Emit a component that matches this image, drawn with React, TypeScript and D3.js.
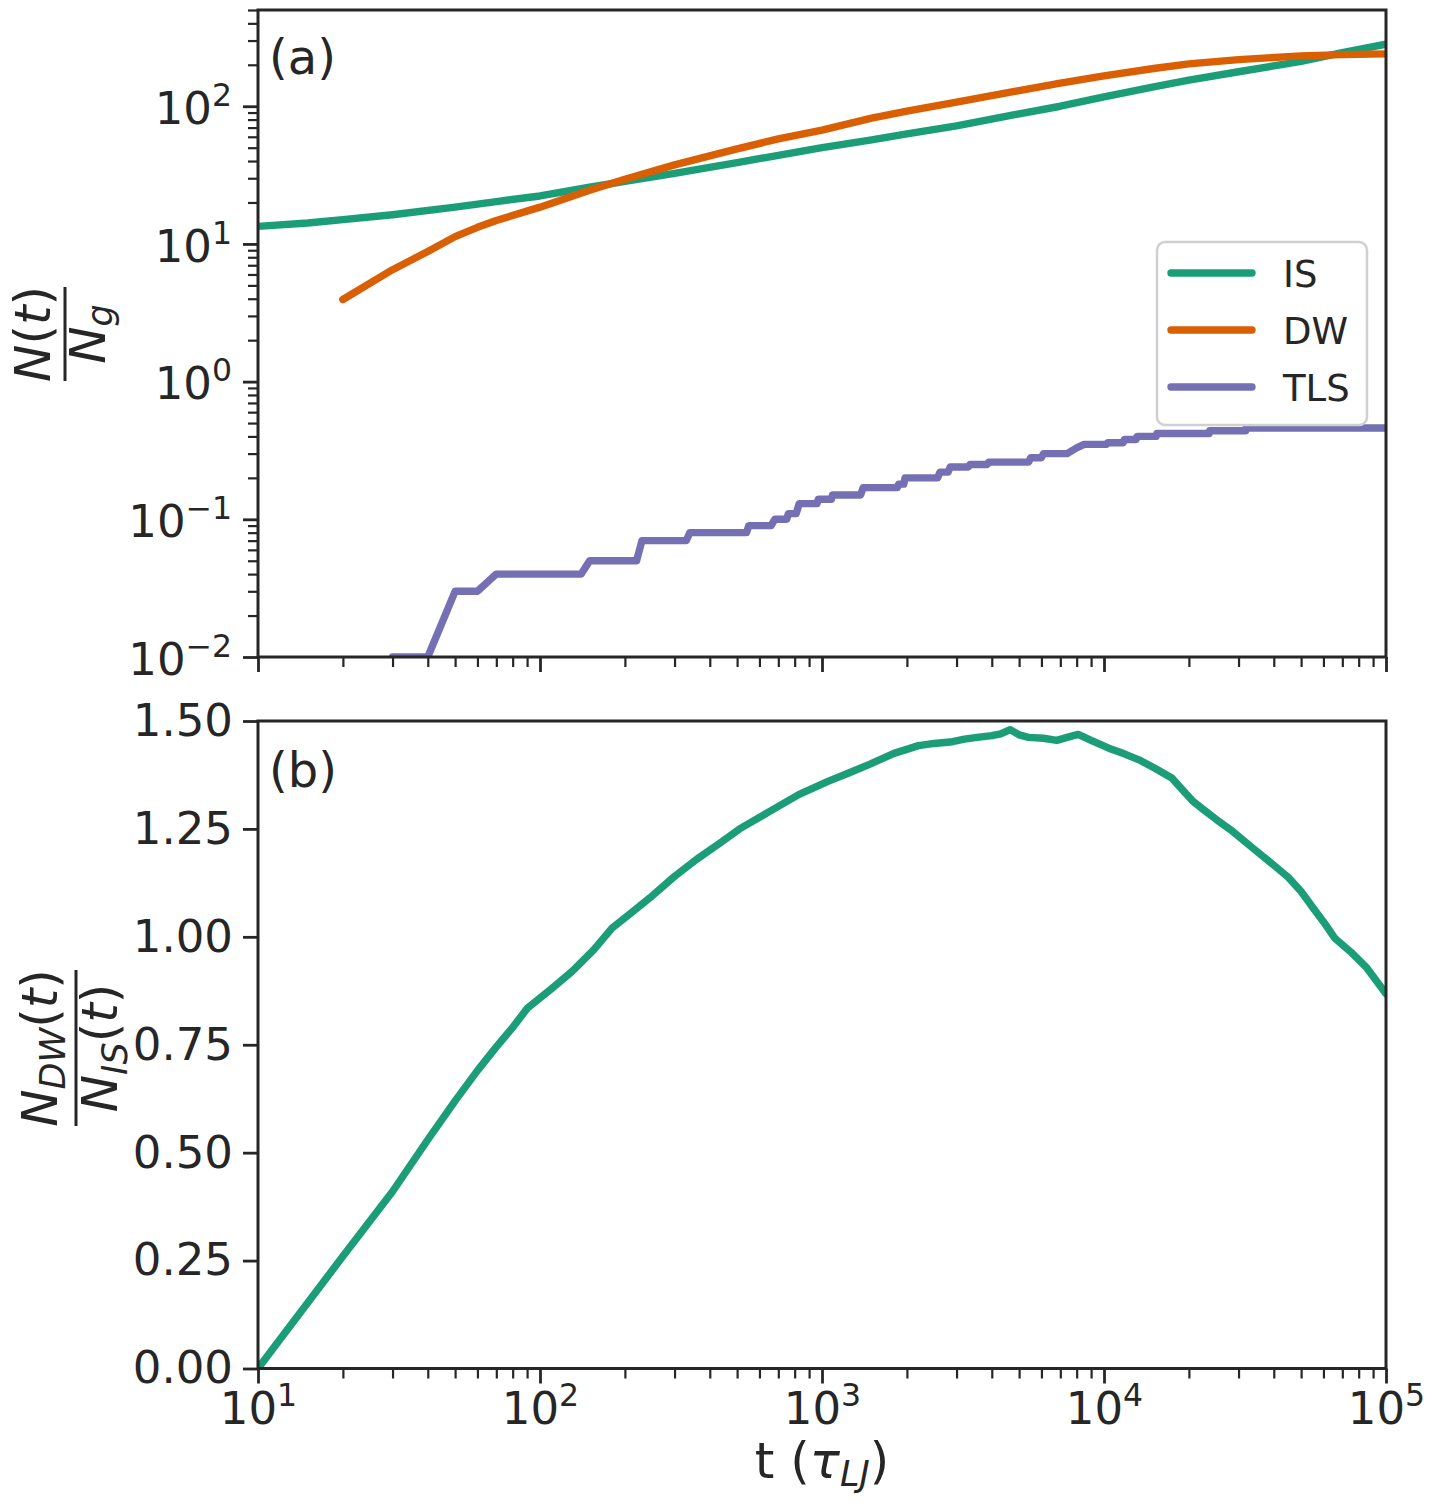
import { useEffect, useRef } from 'react'
import * as d3 from 'd3'

// panel (a): N(t)/N_g
const timeIS = [10, 15, 20, 30, 50, 70, 100, 150, 200, 300, 500, 700, 1000, 1500, 2000, 3000, 5000, 7000, 10000, 15000, 20000, 30000, 50000, 70000, 100000]
const valIS = [13.4, 14.2, 15, 16.3, 18.5, 20.3, 22.3, 25.8, 28.5, 32.5, 39, 44, 50, 57, 63, 72, 88, 100, 117, 138, 155, 178, 212, 245, 282]

const timeDW = [20, 30, 40, 50, 60, 70, 100, 150, 200, 300, 500, 700, 1000, 1500, 2000, 3000, 5000, 7000, 10000, 15000, 20000, 30000, 50000, 70000, 100000]
const valDW = [3.95, 6.5, 8.8, 11.3, 13.2, 14.8, 18.5, 24.5, 29.5, 37.5, 49, 58, 67, 82, 92, 107, 130, 147, 166, 188, 203, 218, 232, 237, 240]

const timeTLS = [30, 40, 50, 60, 70, 140, 150, 220, 230, 330, 340, 540, 550, 660, 680, 750, 760, 810, 830, 960, 970, 1080, 1090, 1370, 1400, 1850, 1870, 1950, 1970, 2570, 2620, 2800, 2850, 3300, 3350, 3850, 3900, 5400, 5500, 6000, 6100, 7400, 8000, 8500, 10200, 10300, 11700, 11800, 13000, 13100, 15300, 15400, 23600, 23700, 31800, 31900, 100000]
const valTLS = [0.01, 0.01, 0.03, 0.03, 0.04, 0.04, 0.05, 0.05, 0.07, 0.07, 0.08, 0.08, 0.09, 0.09, 0.10, 0.10, 0.11, 0.11, 0.13, 0.13, 0.14, 0.14, 0.15, 0.15, 0.17, 0.17, 0.18, 0.18, 0.20, 0.20, 0.22, 0.22, 0.24, 0.24, 0.25, 0.25, 0.26, 0.26, 0.28, 0.28, 0.30, 0.30, 0.33, 0.35, 0.35, 0.36, 0.36, 0.38, 0.38, 0.40, 0.40, 0.42, 0.42, 0.44, 0.44, 0.46, 0.46]

// panel (b): N_DW/N_IS
const timeRatio = [10, 20, 30, 40, 50, 60, 70, 80, 90, 110, 130, 155, 180, 210, 245, 300, 360, 430, 510, 650, 830, 1050, 1250, 1480, 1800, 2200, 2500, 2900, 3200, 3550, 4000, 4300, 4650, 5000, 5400, 6100, 6800, 7400, 8100, 9000, 10400, 11800, 13300, 15200, 17400, 19000, 20600, 22500, 25000, 28500, 33500, 38500, 45000, 50000, 55000, 60000, 66000, 75000, 85000, 100000]
const valRatio = [0, 0.26, 0.41, 0.53, 0.62, 0.69, 0.745, 0.79, 0.834, 0.88, 0.92, 0.97, 1.02, 1.055, 1.09, 1.14, 1.18, 1.215, 1.25, 1.29, 1.33, 1.36, 1.38, 1.40, 1.425, 1.443, 1.448, 1.452, 1.458, 1.462, 1.466, 1.47, 1.48, 1.468, 1.462, 1.46, 1.455, 1.462, 1.469, 1.455, 1.437, 1.424, 1.41, 1.39, 1.368, 1.34, 1.315, 1.295, 1.272, 1.245, 1.207, 1.175, 1.138, 1.105, 1.068, 1.035, 0.996, 0.965, 0.93, 0.868]

const seriesNames = ['IS', 'DW', 'TLS']
const seriesColors = ['#1b9e77', '#d95f02', '#7570b3']
const ratioTicks = [0, 0.25, 0.5, 0.75, 1.0, 1.25, 1.5]

const W = 1436
const H = 1504
const FONT = '"DejaVu Sans", sans-serif'
const INK = '#262626'
const TICK_FS = 45
const LABEL_FS = 50
const LW = 7.4

export default function App() {
  const svgRef = useRef<SVGSVGElement>(null)

  useEffect(() => {
    if (!svgRef.current) return
    const svg = d3.select(svgRef.current)
    svg.selectAll('*').remove()

    const left = 258, right = 1386
    const topA = 10, botA = 657
    const topB = 721, botB = 1368.5

    const x = d3.scaleLog().domain([10, 1e5]).range([left, right])
    const yA = d3.scaleLog().domain([0.01, 500]).range([botA, topA])
    const yB = d3.scaleLinear().domain([0, 1.5]).range([botB, topB])

    const defs = svg.append('defs')
    defs.append('clipPath').attr('id', 'clipA').append('rect')
      .attr('x', left).attr('y', topA).attr('width', right - left).attr('height', botA - topA)
    defs.append('clipPath').attr('id', 'clipB').append('rect')
      .attr('x', left).attr('y', topB).attr('width', right - left).attr('height', botB - topB)

    svg.append('rect').attr('width', W).attr('height', H).attr('fill', 'white')

    // lines panel (a)
    const lineA = d3.line<[number, number]>().x(d => x(d[0])).y(d => yA(d[1]))
    const seriesA: [number, number][][] = [
      timeIS.map((t, i) => [t, valIS[i]]),
      timeDW.map((t, i) => [t, valDW[i]]),
      timeTLS.map((t, i) => [t, valTLS[i]])
    ]
    const gA = svg.append('g').attr('clip-path', 'url(#clipA)')
    seriesA.forEach((pts, i) => {
      gA.append('path')
        .attr('d', lineA(pts))
        .attr('fill', 'none')
        .attr('stroke', seriesColors[i])
        .attr('stroke-width', LW)
        .attr('stroke-linecap', 'round')
        .attr('stroke-linejoin', 'round')
    })

    // line panel (b)
    const lineB = d3.line<[number, number]>().x(d => x(d[0])).y(d => yB(d[1]))
    svg.append('g').attr('clip-path', 'url(#clipB)')
      .append('path')
      .attr('d', lineB(timeRatio.map((t, i) => [t, valRatio[i]])))
      .attr('fill', 'none')
      .attr('stroke', seriesColors[0])
      .attr('stroke-width', LW)
      .attr('stroke-linecap', 'round')
      .attr('stroke-linejoin', 'round')

    // superscript formatter for log ticks
    const powerLabels = (g: d3.Selection<SVGGElement, unknown, null, undefined>) => {
      g.selectAll<SVGTextElement, number>('.tick text').each(function (d) {
        const t = d3.select(this)
        const e = Math.round(Math.log10(d))
        t.text(null)
        t.append('tspan').text('10')
        t.append('tspan')
          .attr('font-size', TICK_FS * 0.7)
          .attr('dy', -18)
          .text(e < 0 ? '\u2212' + -e : String(e))
      })
    }

    const styleAxis = (g: d3.Selection<SVGGElement, unknown, null, undefined>, w = 2.8) => {
      g.attr('font-family', FONT).attr('font-size', TICK_FS).style('color', INK)
      g.select('.domain').remove()
      g.selectAll('.tick line').attr('stroke-width', w)
    }

    const majorX = [10, 100, 1000, 10000, 100000]
    const minorX: number[] = []
    majorX.slice(0, -1).forEach(m => d3.range(2, 10).forEach(k => minorX.push(m * k)))
    const majorYA = [0.01, 0.1, 1, 10, 100]
    const minorYA: number[] = []
    ;[0.01, 0.1, 1, 10, 100].forEach(m => d3.range(2, 10).forEach(k => { if (m * k <= 500) minorYA.push(m * k) }))

    // panel (a) axes
    const axAxMinor = svg.append('g').attr('transform', `translate(0,${botA})`)
      .call(d3.axisBottom(x).tickValues(minorX).tickSize(10).tickFormat(() => ''))
    styleAxis(axAxMinor, 2.2)
    const axAx = svg.append('g').attr('transform', `translate(0,${botA})`)
      .call(d3.axisBottom(x).tickValues(majorX).tickSize(15).tickFormat(() => ''))
    styleAxis(axAx)

    const ayAMinor = svg.append('g').attr('transform', `translate(${left},0)`)
      .call(d3.axisLeft(yA).tickValues(minorYA).tickSize(10).tickFormat(() => ''))
    styleAxis(ayAMinor, 2.2)
    const ayA = svg.append('g').attr('transform', `translate(${left},0)`)
      .call(d3.axisLeft(yA).tickValues(majorYA).tickSize(15).tickPadding(11))
    styleAxis(ayA)
    ayA.selectAll('.tick text').attr('dy', '0.38em')
    powerLabels(ayA)

    // panel (b) axes
    const axBMinor = svg.append('g').attr('transform', `translate(0,${botB})`)
      .call(d3.axisBottom(x).tickValues(minorX).tickSize(10).tickFormat(() => ''))
    styleAxis(axBMinor, 2.2)
    const axB = svg.append('g').attr('transform', `translate(0,${botB})`)
      .call(d3.axisBottom(x).tickValues(majorX).tickSize(15).tickPadding(9))
    styleAxis(axB)
    powerLabels(axB)

    const ayB = svg.append('g').attr('transform', `translate(${left},0)`)
      .call(d3.axisLeft(yB).tickValues(ratioTicks).tickSize(15).tickPadding(10).tickFormat(d3.format('.2f')))
    styleAxis(ayB)

    // spines
    ;[[topA, botA], [topB, botB]].forEach(([t, b]) => {
      svg.append('rect')
        .attr('x', left).attr('y', t).attr('width', right - left).attr('height', b - t)
        .attr('fill', 'none').attr('stroke', INK).attr('stroke-width', 3)
    })

    // panel tags
    svg.append('text').attr('x', 269).attr('y', 74).attr('font-family', FONT)
      .attr('font-size', 48).attr('fill', INK).text('(a)')
    svg.append('text').attr('x', 269).attr('y', 787).attr('font-family', FONT)
      .attr('font-size', 48).attr('fill', INK).text('(b)')

    // legend
    const leg = svg.append('g')
    leg.append('rect')
      .attr('x', 1157).attr('y', 242).attr('width', 210).attr('height', 183).attr('rx', 8)
      .attr('fill', 'white').attr('fill-opacity', 0.8)
      .attr('stroke', '#d0d0d0').attr('stroke-width', 2.5)
    seriesNames.forEach((name, i) => {
      const ly = 273 + i * 57
      leg.append('line')
        .attr('x1', 1171).attr('x2', 1252).attr('y1', ly).attr('y2', ly)
        .attr('stroke', seriesColors[i]).attr('stroke-width', LW).attr('stroke-linecap', 'round')
      leg.append('text')
        .attr('x', 1283).attr('y', ly + 14)
        .attr('font-family', FONT).attr('font-size', 37).attr('fill', INK)
        .text(name)
    })

    // y label (a)
    const labA = svg.append('g').attr('transform', 'translate(65,334) rotate(-90)')
      .attr('font-family', FONT).attr('fill', INK).attr('font-size', LABEL_FS)
    labA.append('line').attr('x1', -47).attr('x2', 47).attr('stroke', INK).attr('stroke-width', 3)
    const numA = labA.append('text').attr('y', -15).attr('text-anchor', 'middle')
    numA.append('tspan').attr('font-style', 'italic').text('N')
    numA.append('tspan').text('(')
    numA.append('tspan').attr('font-style', 'italic').text('t')
    numA.append('tspan').text(')')
    const denA = labA.append('text').attr('y', 40).attr('text-anchor', 'middle')
    denA.append('tspan').attr('font-style', 'italic').text('N')
    denA.append('tspan').attr('font-style', 'italic').attr('font-size', LABEL_FS * 0.7).attr('dy', 7).text('g')

    // y label (b)
    const labB = svg.append('g').attr('transform', 'translate(76,1048) rotate(-90)')
      .attr('font-family', FONT).attr('fill', INK).attr('font-size', LABEL_FS)
    labB.append('line').attr('x1', -78).attr('x2', 78).attr('stroke', INK).attr('stroke-width', 3)
    const numB = labB.append('text').attr('y', -19).attr('text-anchor', 'middle')
    numB.append('tspan').attr('font-style', 'italic').text('N')
    numB.append('tspan').attr('font-style', 'italic').attr('font-size', LABEL_FS * 0.7).attr('dy', 8).text('DW')
    numB.append('tspan').attr('dy', -8).text('(')
    numB.append('tspan').attr('font-style', 'italic').text('t')
    numB.append('tspan').text(')')
    const denB = labB.append('text').attr('y', 41).attr('text-anchor', 'middle')
    denB.append('tspan').attr('font-style', 'italic').text('N')
    denB.append('tspan').attr('font-style', 'italic').attr('font-size', LABEL_FS * 0.7).attr('dy', 10).text('IS')
    denB.append('tspan').attr('dy', -10).text('(')
    denB.append('tspan').attr('font-style', 'italic').text('t')
    denB.append('tspan').text(')')

    // x label
    const xl = svg.append('text').attr('x', (left + right) / 2).attr('y', 1478)
      .attr('text-anchor', 'middle').attr('font-family', FONT).attr('font-size', LABEL_FS).attr('fill', INK)
    xl.append('tspan').text('t (')
    xl.append('tspan').attr('font-style', 'italic').text('\u03c4')
    xl.append('tspan').attr('font-style', 'italic').attr('font-size', LABEL_FS * 0.7).attr('dy', 8).text('LJ')
    xl.append('tspan').attr('dy', -8).text(')')
  }, [])

  return (
    <div style={{ position: 'absolute', left: 0, top: 0 }}>
      <svg ref={svgRef} width={W} height={H} />
    </div>
  )
}
